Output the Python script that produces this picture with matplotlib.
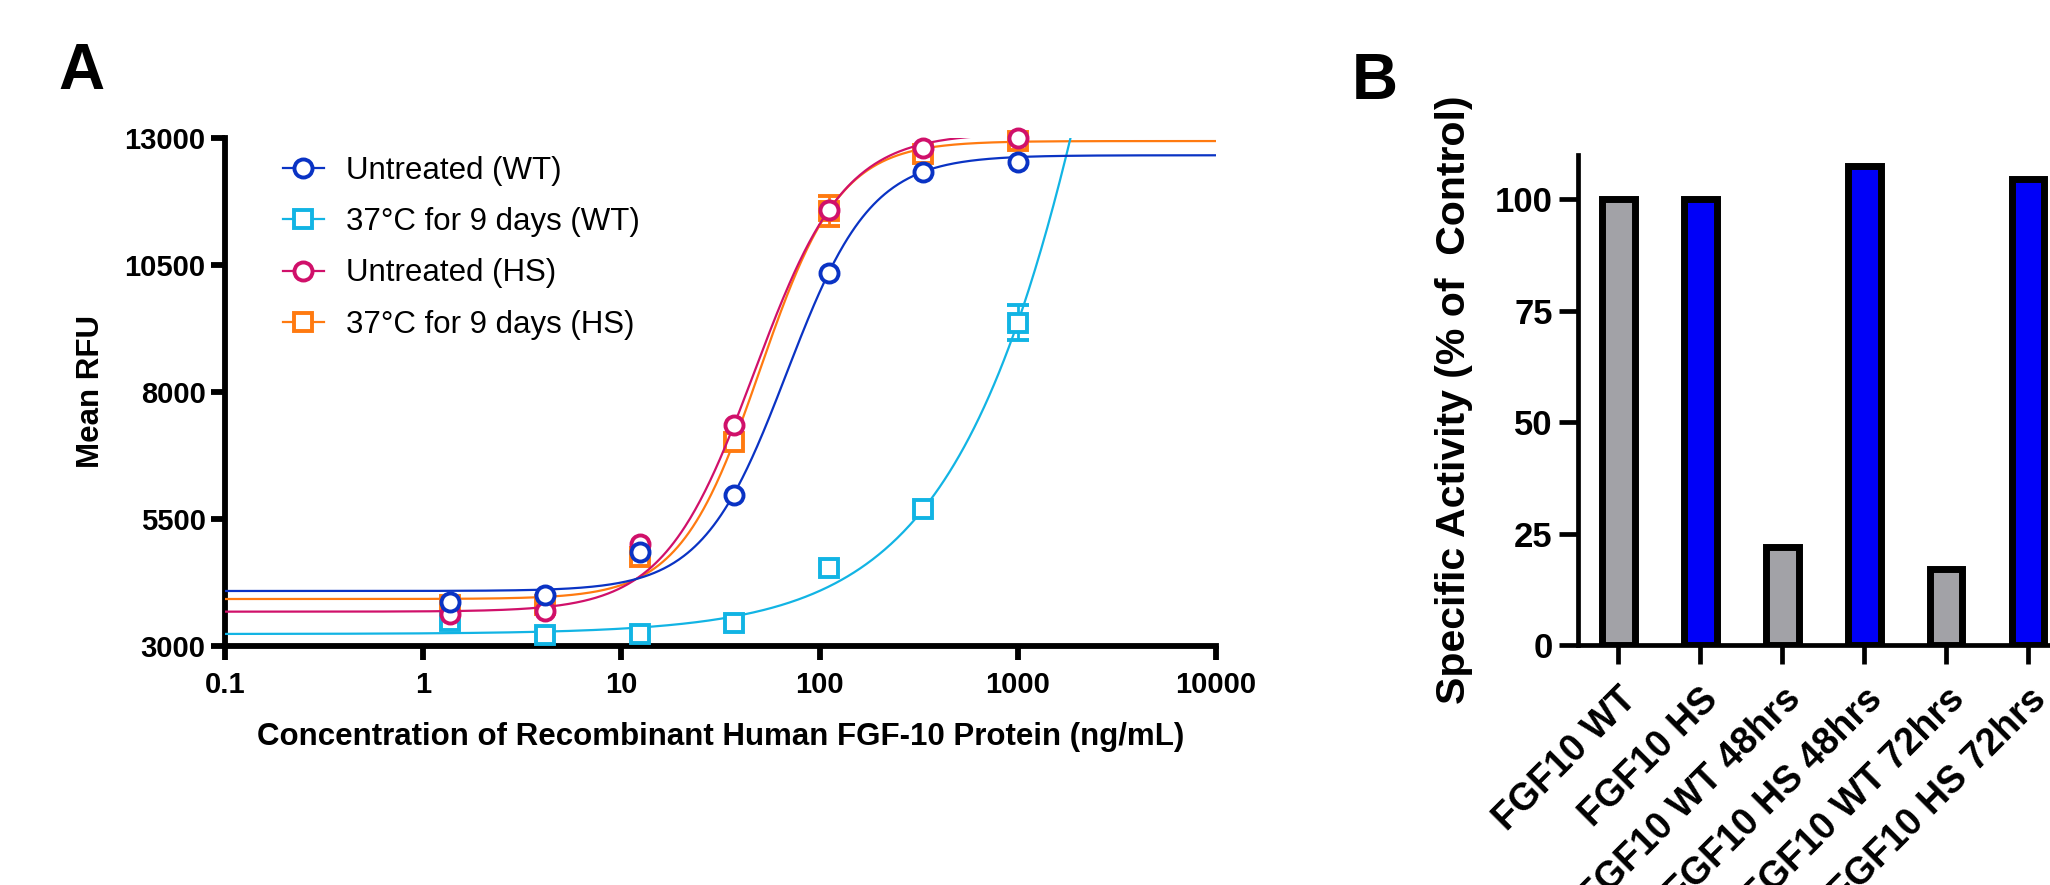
import numpy as np
import matplotlib
matplotlib.use('Agg')
import matplotlib.pyplot as plt
from matplotlib.lines import Line2D
from matplotlib.ticker import FixedLocator, NullLocator, FixedFormatter

plt.rcParams['font.family'] = ['Liberation Sans', 'DejaVu Sans']

# ---------------- Panel A data ----------------
conc = [1.37, 4.12, 12.35, 37.0, 111.0, 333.0, 1000.0]
series_names = ['Untreated (WT)', '37°C for 9 days (WT)', 'Untreated (HS)', '37°C for 9 days (HS)']
rfu_untreated_wt = [3866, 4004, 4856, 5972, 10349, 12337, 12522]
rfu_heat_wt = [3492, 3210, 3243, 3459, 4541, 5691, 9365]
rfu_untreated_hs = [3630, 3689, 5014, 7350, 11577, 12809, 12993]
rfu_heat_hs = [3807, 3800, 4752, 7022, 11563, 12680, 12940]
err_untreated_wt = [0, 0, 0, 0, 0, 0, 0]
err_heat_wt = [0, 0, 0, 0, 0, 0, 350]
err_untreated_hs = [0, 0, 0, 0, 0, 0, 0]
err_heat_hs = [0, 0, 0, 0, 300, 0, 0]
# four-parameter logistic fit parameters (bottom, top, EC50, Hill) per series
fit_bottom = [4083, 3236, 3676, 3925]
fit_top = [12660, 50000, 13100, 12940]
fit_ec50 = [68.2, 7950, 46.8, 50.0]
fit_hill = [2.04, 0.912, 1.905, 2.149]

x_ticks = [0.1, 1, 10, 100, 1000, 10000]
x_tick_labels = ['0.1', '1', '10', '100', '1000', '10000']
y_ticks = [3000, 5500, 8000, 10500, 13000]

# ---------------- Panel B data ----------------
bar_labels = ['FGF10 WT', 'FGF10 HS', 'FGF10 WT 48hrs', 'FGF10 HS 48hrs',
              'FGF10 WT 72hrs', 'FGF10 HS 72hrs']
bar_values = [100, 100, 22, 107.5, 17, 104.5]
b_y_ticks = [0, 25, 50, 75, 100]

# ---------------- styles ----------------
colors = ['#0a33c4', '#12b4e4', '#d0106a', '#ff7a10']
markers = ['o', 's', 'o', 's']
msizes = [13, 13.5, 13, 13.5]
zorders = [6, 4, 5, 3]
bar_colors = ['#a2a2a7', '#0000f8', '#a2a2a7', '#0000f8', '#a2a2a7', '#0000f8']

W, H = 2050, 885
fig = plt.figure(figsize=(W / 100, H / 100), dpi=100)

# ================= Panel A =================
axA = fig.add_axes([225 / W, 1 - 646 / H, 991 / W, 508 / H])
axA.set_xscale('log')
data = [rfu_untreated_wt, rfu_heat_wt, rfu_untreated_hs, rfu_heat_hs]
errs = [err_untreated_wt, err_heat_wt, err_untreated_hs, err_heat_hs]
xfit = np.logspace(-1, 4, 800)
for i in range(4):
    yfit = fit_bottom[i] + (fit_top[i] - fit_bottom[i]) / (1 + (fit_ec50[i] / xfit) ** fit_hill[i])
    axA.plot(xfit, yfit, color=colors[i], lw=1.6, zorder=zorders[i])
    e = np.array(errs[i], dtype=float)
    axA.errorbar(conc, data[i], yerr=np.where(e > 0, e, np.nan), fmt=markers[i],
                 mfc='white', mec=colors[i], mew=2.8, ms=msizes[i], ecolor=colors[i],
                 elinewidth=2, capsize=8, capthick=2, zorder=zorders[i] + 0.5,
                 clip_on=False)

axA.set_xlim(0.1, 10000)
axA.set_ylim(3000, 13000)
for s in ['top', 'right']:
    axA.spines[s].set_visible(False)
for s in ['left', 'bottom']:
    axA.spines[s].set_linewidth(4.2)
axA.xaxis.set_major_locator(FixedLocator(x_ticks))
axA.xaxis.set_major_formatter(FixedFormatter(x_tick_labels))
axA.xaxis.set_minor_locator(NullLocator())
axA.yaxis.set_major_locator(FixedLocator(y_ticks))
axA.set_yticklabels([str(v) for v in y_ticks])
axA.tick_params(axis='both', which='major', width=4.2, length=10, labelsize=21, direction='out')
axA.tick_params(axis='y', pad=4)
axA.tick_params(axis='x', pad=8)
for lab in axA.get_xticklabels() + axA.get_yticklabels():
    lab.set_fontweight('bold')
axA.set_xlabel('Concentration of Recombinant Human FGF-10 Protein (ng/mL)',
               fontsize=22.5, fontweight='bold')
axA.xaxis.set_label_coords(0.5, -0.18)
axA.xaxis.label.set_va('center')
axA.set_ylabel('Mean RFU', fontsize=22.5, fontweight='bold')
axA.yaxis.set_label_coords(-0.135, 0.5)
axA.yaxis.label.set_va('center')

handles = [Line2D([], [], color=colors[i], lw=1.6, marker=markers[i], mfc='white',
                  mec=colors[i], mew=2.8, ms=msizes[i]) for i in range(4)]
leg = fig.legend(handles, series_names, loc='upper left',
                 bbox_to_anchor=(283 / W, 1 - 156 / H), frameon=False,
                 fontsize=22.5, handlelength=1.3, handletextpad=0.7,
                 labelspacing=0.68, borderpad=0, borderaxespad=0)

fig.text(58 / W, 1 - 89 / H, 'A', fontsize=46, fontweight='bold', ha='left', va='baseline')

# ================= Panel B =================
axB = fig.add_axes([1577.5 / W, 1 - 645 / H, 6 * 81.9 / W, (645 - 154.7) / H])
xb = np.arange(len(bar_values))
axB.bar(xb, bar_values, width=0.40, color=bar_colors, edgecolor='black', linewidth=5, zorder=3)
axB.set_xlim(-0.5, 5.5)
axB.set_ylim(0, 110)
for s in ['top', 'right']:
    axB.spines[s].set_visible(False)
for s in ['left', 'bottom']:
    axB.spines[s].set_linewidth(3.4)
axB.set_yticks(b_y_ticks)
axB.set_yticklabels([str(v) for v in b_y_ticks])
axB.set_xticks(xb)
axB.set_xticklabels(bar_labels, rotation=45, ha='right', va='top', rotation_mode='anchor')
axB.tick_params(axis='both', width=3.4, length=14, labelsize=25, direction='out')
axB.tick_params(axis='x', pad=12, labelsize=27)
axB.tick_params(axis='y', pad=4)
for lab in axB.get_xticklabels() + axB.get_yticklabels():
    lab.set_fontweight('bold')
axB.set_ylabel('Specific Activity (% of  Control)', fontsize=29.5, fontweight='bold')
axB.yaxis.set_label_coords(-0.251, 0.5)
axB.yaxis.label.set_va('center')

fig.text(1352 / W, 1 - 99 / H, 'B', fontsize=46, fontweight='bold', ha='left', va='baseline')

fig.savefig('out.png', dpi=100)
